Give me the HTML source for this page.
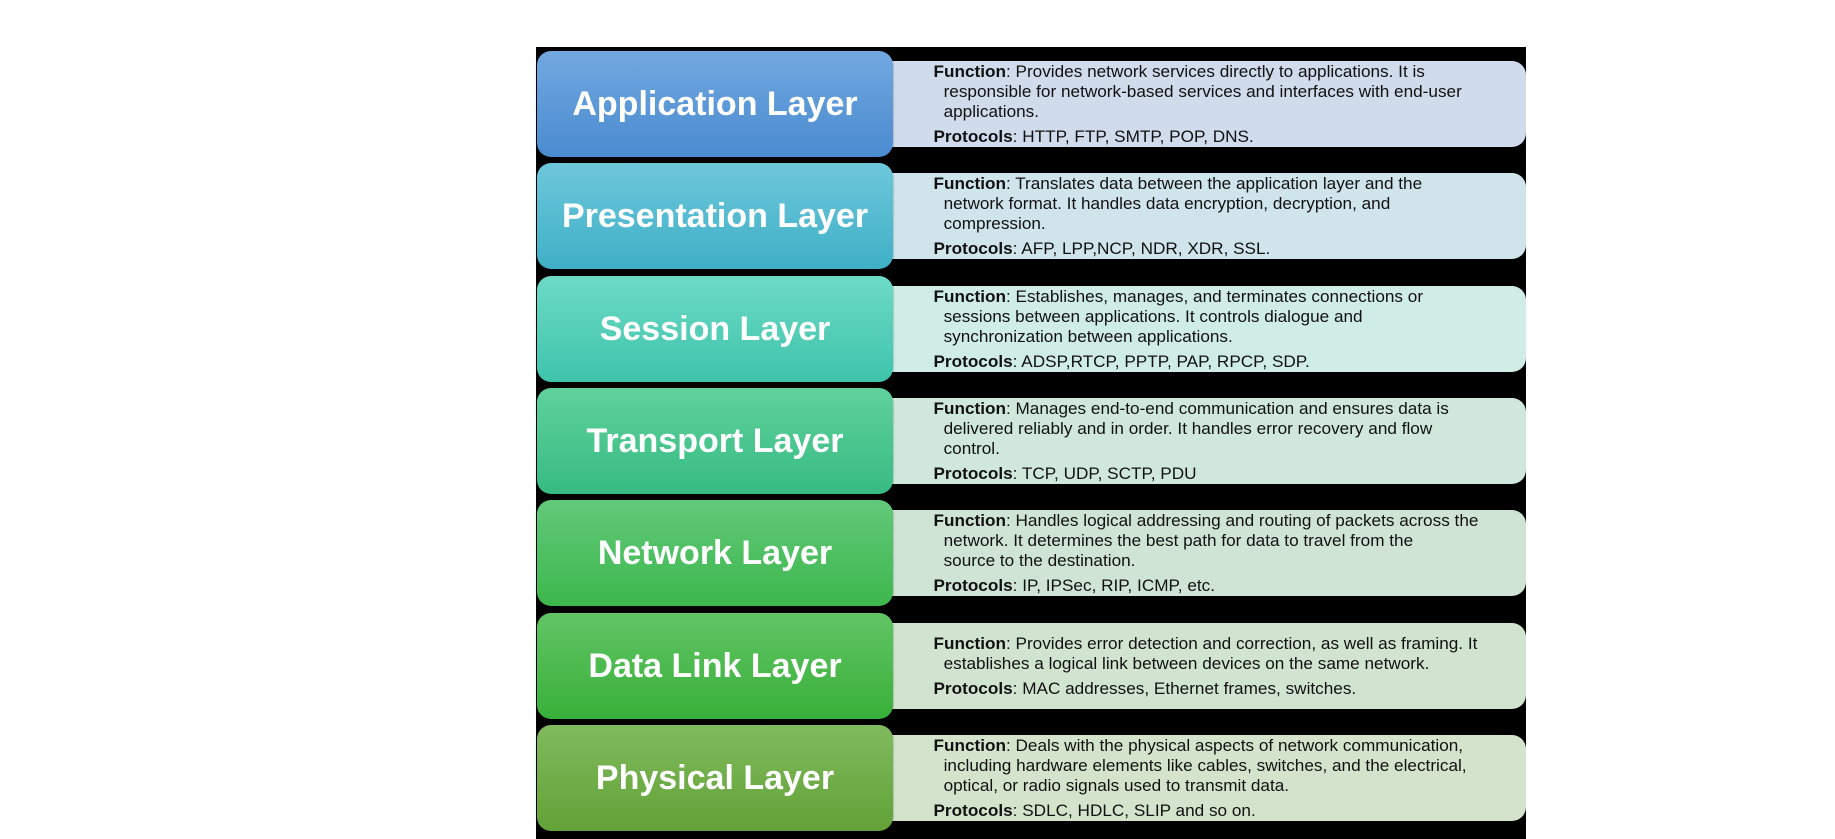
<!DOCTYPE html>
<html><head><meta charset="utf-8"><style>
body{margin:0;width:1835px;height:839px;background:#fff;position:relative;overflow:hidden;font-family:"Liberation Sans",sans-serif}
#frame{position:absolute;left:536px;top:47px;width:990px;height:792px;background:#000}
.l{position:absolute;left:537px;width:356px;height:106px;border-radius:14px;display:flex;align-items:center;justify-content:center;color:#fff;font-weight:bold;font-size:34px;box-shadow:0 1px 2px rgba(0,0,0,.4)}
.l span{display:inline-block;transform:scaleX(1.0);white-space:nowrap}
.r{position:absolute;left:885px;width:641px;height:86px;border-radius:0 14px 14px 0;display:flex;flex-direction:column;justify-content:center;color:#111;font-size:17px}
.r div{padding-left:48px;line-height:20px;transform:scaleX(1.01);transform-origin:left;white-space:nowrap}
.r div.c{padding-left:58px}
.r div.p{margin-top:5px}
b{font-weight:bold}
</style></head><body>
<div id="frame"></div>

<div class="r" style="top:61px;background:#d0dcec">
<div><b>Function</b>: Provides network services directly to applications. It is</div>
<div class="c">responsible for network-based services and interfaces with end-user</div>
<div class="c">applications.</div>
<div class="p"><b>Protocols</b>: HTTP, FTP, SMTP, POP, DNS.</div></div>
<div class="l" style="top:51px;background:linear-gradient(#72a8e0,#4a8bd0)"><span>Application Layer</span></div>

<div class="r" style="top:173px;background:#d0e4ec">
<div><b>Function</b>: Translates data between the application layer and the</div>
<div class="c">network format. It handles data encryption, decryption, and</div>
<div class="c">compression.</div>
<div class="p"><b>Protocols</b>: AFP, LPP,NCP, NDR, XDR, SSL.</div></div>
<div class="l" style="top:163px;background:linear-gradient(#6ec7db,#3fb0c7)"><span>Presentation Layer</span></div>

<div class="r" style="top:286px;background:#d0ece6">
<div><b>Function</b>: Establishes, manages, and terminates connections or</div>
<div class="c">sessions between applications. It controls dialogue and</div>
<div class="c">synchronization between applications.</div>
<div class="p"><b>Protocols</b>: ADSP,RTCP, PPTP, PAP,  RPCP, SDP.</div></div>
<div class="l" style="top:276px;background:linear-gradient(#6ddac6,#3ec4ab)"><span>Session Layer</span></div>

<div class="r" style="top:398px;background:#d0e8dc">
<div><b>Function</b>: Manages end-to-end communication and ensures data is</div>
<div class="c">delivered reliably and in order. It handles error recovery and flow</div>
<div class="c">control.</div>
<div class="p"><b>Protocols</b>: TCP, UDP, SCTP, PDU</div></div>
<div class="l" style="top:388px;background:linear-gradient(#60d19c,#37bb83)"><span>Transport Layer</span></div>

<div class="r" style="top:510px;background:#d0e4d6">
<div><b>Function</b>: Handles logical addressing and routing of packets across the</div>
<div class="c">network. It determines the best path for data to travel from the</div>
<div class="c">source to the destination.</div>
<div class="p"><b>Protocols</b>: IP, IPSec, RIP, ICMP, etc.</div></div>
<div class="l" style="top:500px;background:linear-gradient(#62c97a,#3db74c)"><span>Network Layer</span></div>

<div class="r" style="top:623px;background:#d0e4d0">
<div><b>Function</b>: Provides error detection and correction, as well as framing. It</div>
<div class="c">establishes a logical link between devices on the same network.</div>
<div class="p"><b>Protocols</b>: MAC addresses, Ethernet frames, switches.</div></div>
<div class="l" style="top:613px;background:linear-gradient(#62c465,#38b039)"><span>Data Link Layer</span></div>

<div class="r" style="top:735px;background:#d4e4cc">
<div><b>Function</b>: Deals with the physical aspects of network communication,</div>
<div class="c">including hardware elements like cables, switches, and the electrical,</div>
<div class="c">optical, or radio signals used to transmit data.</div>
<div class="p"><b>Protocols</b>: SDLC, HDLC, SLIP and so on.</div></div>
<div class="l" style="top:725px;background:linear-gradient(#80ba5e,#62a237)"><span>Physical Layer</span></div>
</body></html>
